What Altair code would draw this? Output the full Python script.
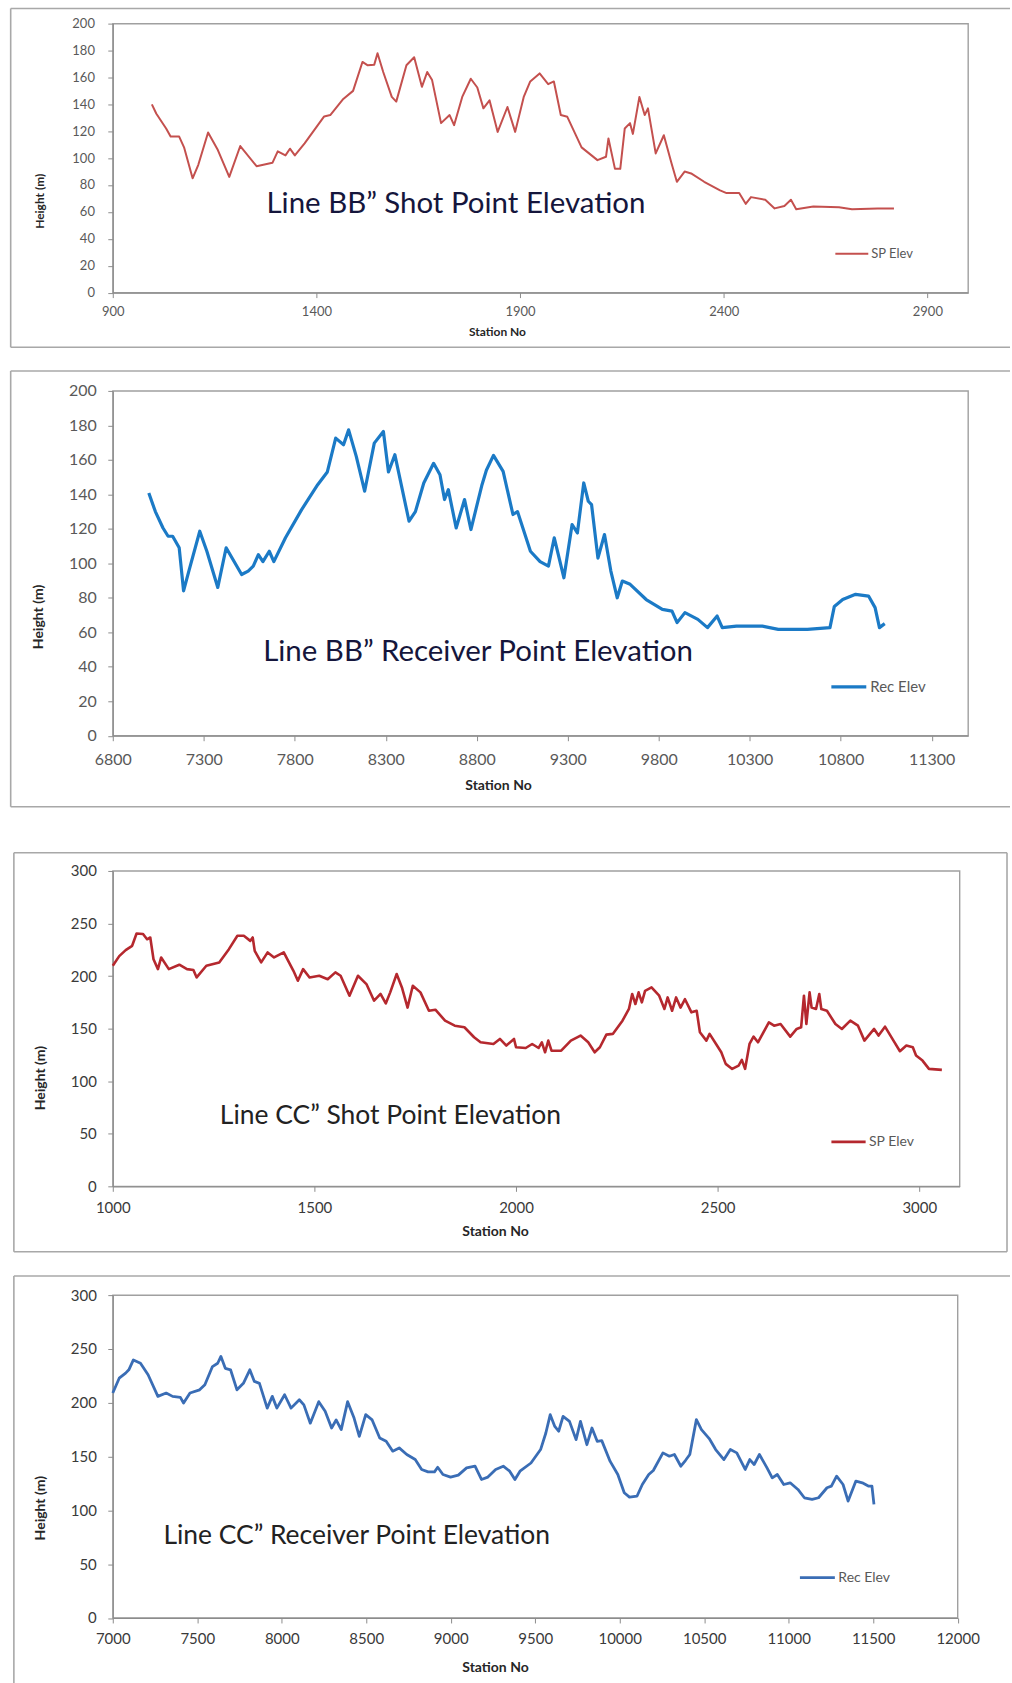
import altair as alt
import pandas as pd

FONT = "Lato"
AXIS_GREY = "#8c8c8c"
FRAME_GREY = "#a8a8a8"

# ---------------- Line BB" : shot point elevation ----------------
bb_sp_station = [996, 1007, 1031, 1042, 1063, 1075, 1096, 1110, 1134, 1158, 1186, 1213,
                 1253, 1292, 1305, 1324, 1335, 1347, 1371, 1419, 1434, 1466, 1490, 1513,
                 1526, 1542, 1550, 1564, 1585, 1596, 1621, 1640, 1659, 1672, 1684, 1706,
                 1727, 1738, 1758, 1779, 1795, 1810, 1825, 1845, 1869, 1888, 1909, 1925,
                 1948, 1969, 1983, 2000, 2016, 2051, 2090, 2111, 2117, 2133, 2146, 2157,
                 2170, 2177, 2193, 2206, 2214, 2233, 2253, 2272, 2285, 2304, 2320, 2352,
                 2391, 2407, 2438, 2454, 2467, 2502, 2525, 2549, 2565, 2578, 2620, 2683,
                 2715, 2778, 2818]
bb_sp_height = [140, 133, 122, 116, 116, 108, 85, 95, 119, 106, 86, 109,
                94, 96.5, 105, 102, 107, 102, 111, 131, 132, 144, 150, 171.5,
                169, 169.5, 178, 164, 145.5, 142, 169, 175, 153, 164, 158, 126,
                132, 124.5, 145.5, 159, 152.5, 137, 143, 119.5, 138, 119.5, 145.5, 157,
                163, 155, 157, 132, 130.7, 108, 98.5, 101, 114.6, 92, 92, 122,
                126, 118, 145.5, 132, 137, 103.5, 117, 96, 82.4, 90, 88.6, 82.4,
                76, 74, 74, 66, 71, 69, 62.6, 64.4, 69, 62, 64, 63.4,
                62, 62.6, 62.6]

# ---------------- Line BB" : receiver point elevation ----------------
bb_rec_station = [6998, 7034, 7076, 7104, 7129, 7165, 7189, 7218, 7278, 7317, 7377, 7423,
                  7508, 7544, 7572, 7600, 7625, 7660, 7685, 7749, 7837, 7926, 7979, 8025,
                  8068, 8096, 8138, 8184, 8237, 8287, 8315, 8350, 8428, 8463, 8509, 8563,
                  8598, 8623, 8644, 8687, 8733, 8768, 8829, 8853, 8892, 8945, 8999, 9024,
                  9095, 9148, 9194, 9226, 9279, 9324, 9353, 9388, 9413, 9431, 9466, 9502,
                  9537, 9572, 9600, 9643, 9731, 9820, 9873, 9901, 9944, 10015, 10068, 10121,
                  10149, 10227, 10369, 10457, 10617, 10741, 10765, 10811, 10882, 10953, 10989, 11013,
                  11042]
bb_rec_height = [140.8, 130, 120.5, 115.7, 115.7, 109, 84, 95.5, 118.6, 107, 86, 109,
                 93.5, 95.5, 98.4, 105, 101, 107, 101, 114.8, 131, 145.6, 153, 172.6,
                 168.8, 177.4, 162, 141.8, 169.7, 176.5, 153, 163, 124.4, 130, 146.6, 158,
                 151.4, 137, 142.7, 120.5, 137, 119.6, 145.6, 154, 162.6, 153.3, 128.3, 130,
                 107, 101, 98.4, 114.8, 91.6, 122.5, 117.6, 146.6, 136, 134, 103, 116.7,
                 95.5, 80, 89.7, 87.8, 79, 73.3, 72.3, 65.6, 71.4, 67.5, 62.7, 69.4,
                 62.7, 63.6, 63.6, 61.7, 61.7, 62.7, 75, 79, 82, 81, 74.3, 62.7,
                 65]

# ---------------- Line CC" : shot point elevation ----------------
cc_sp_station = [1000, 1016, 1032, 1048, 1059, 1075, 1085, 1093, 1101, 1112, 1120, 1139,
                 1165, 1184, 1200, 1208, 1232, 1264, 1288, 1309, 1325, 1341, 1347, 1352,
                 1368, 1384, 1400, 1424, 1448, 1459, 1472, 1488, 1512, 1533, 1552, 1565,
                 1587, 1608, 1629, 1648, 1664, 1677, 1688, 1704, 1717, 1731, 1744, 1763,
                 1784, 1800, 1824, 1848, 1872, 1896, 1912, 1944, 1960, 1976, 1995, 2000,
                 2024, 2040, 2056, 2064, 2072, 2080, 2088, 2112, 2136, 2160, 2179, 2195,
                 2208, 2224, 2240, 2264, 2280, 2288, 2296, 2304, 2312, 2320, 2336, 2355,
                 2368, 2376, 2387, 2397, 2408, 2419, 2435, 2448, 2456, 2472, 2480, 2496,
                 2509, 2520, 2536, 2552, 2560, 2568, 2579, 2589, 2600, 2627, 2640, 2656,
                 2680, 2696, 2707, 2714, 2720, 2728, 2733, 2744, 2752, 2757, 2771, 2792,
                 2808, 2829, 2848, 2864, 2888, 2899, 2915, 2936, 2952, 2968, 2984, 2992,
                 3008, 3024, 3056]
cc_sp_height = [209.8, 219, 224.7, 228.8, 240.5, 240, 235, 236.7, 216, 206.6, 217.7, 206.6,
                210.8, 206.6, 205.7, 198.7, 209.8, 213, 225.6, 238.3, 238.3, 233.5, 236.7, 224,
                213, 222.5, 217.7, 222.5, 205, 195.6, 206.6, 198.7, 200.3, 197, 203.5, 200.3,
                181.3, 200.3, 192.4, 176.6, 183, 174, 184.5, 202, 189.2, 170, 190.8, 184.5,
                167, 168, 157.6, 152.8, 151.3, 141.8, 137, 135.4, 140.2, 133.9, 140.2, 132.3,
                131.6, 135.4, 131.6, 137, 127.5, 138.6, 129, 129, 138.6, 143.4, 137, 127.5,
                132.3, 144.3, 145, 157.6, 168.7, 183, 173.4, 184.5, 175, 186, 189.2, 181.3,
                168.7, 179.7, 167, 179.7, 170, 178, 165.5, 167, 146.5, 138.6, 145, 135.4,
                127.5, 116.5, 111.7, 114.9, 120.3, 111.7, 135.4, 142.4, 137, 156, 152.8, 154.4,
                142.4, 149.7, 151.3, 181.3, 154.4, 184.5, 170, 168.7, 183, 168.7, 167, 154.4,
                149.7, 157.6, 152.8, 138.6, 149.7, 143.4, 151.9, 138.6, 128.5, 133.9, 132.3, 124.4,
                119.6, 111.7, 110.8]

# ---------------- Line CC" : receiver point elevation ----------------
cc_rec_station = [7000, 7038, 7076, 7095, 7122, 7164, 7209, 7267, 7316, 7354, 7400, 7419,
                  7457, 7514, 7545, 7590, 7621, 7640, 7666, 7697, 7735, 7773, 7811, 7838,
                  7868, 7914, 7944, 7971, 8017, 8055, 8104, 8131, 8169, 8219, 8257, 8295,
                  8322, 8352, 8390, 8428, 8459, 8497, 8535, 8580, 8618, 8657, 8695, 8740,
                  8790, 8828, 8866, 8904, 8923, 8954, 8999, 9045, 9094, 9144, 9182, 9220,
                  9266, 9311, 9349, 9380, 9410, 9475, 9532, 9563, 9589, 9616, 9639, 9665,
                  9703, 9742, 9768, 9806, 9836, 9867, 9894, 9943, 9989, 10027, 10058, 10103,
                  10134, 10172, 10199, 10256, 10294, 10324, 10362, 10389, 10415, 10454, 10484, 10530,
                  10568, 10617, 10655, 10693, 10743, 10770, 10796, 10827, 10872, 10903, 10933, 10971,
                  11009, 11055, 11093, 11139, 11177, 11227, 11253, 11284, 11322, 11352, 11398, 11436,
                  11474, 11493, 11505]
cc_rec_height = [209, 222.8, 227.5, 230.6, 239.8, 236.7, 226, 205.9, 209, 205.9, 205, 199.7,
                 209, 212, 216.7, 233.6, 236.7, 243, 232, 230.6, 212, 218, 230.6, 219.8,
                 218, 195, 205.9, 195, 207.4, 195, 202.8, 198, 181, 201, 192, 176.5,
                 184, 175, 201, 185.8, 168.8, 188.9, 184, 167.3, 164.2, 155, 158, 151.9,
                 147.2, 138, 135.8, 135.8, 140, 133.3, 130.9, 132.7, 139.5, 141, 128.7, 130.9,
                 138, 141, 136.4, 128.7, 136.4, 144, 156.5, 171.9, 188.9, 178, 173.5, 187.3,
                 182.7, 165.7, 182.7, 161, 176.5, 164.2, 164.8, 145.7, 133.3, 116.4, 112.3, 113.3,
                 124, 133.3, 137, 153.4, 150.3, 151.9, 141, 146.3, 151.9, 184.3, 175, 166.7,
                 156.5, 147.2, 156.5, 153.4, 138, 147.2, 142.6, 151.9, 139.5, 130.2, 133.3, 124,
                 125.6, 119.4, 111.7, 110.2, 111.7, 121, 122.5, 131.8, 124, 108.6, 127.2, 125.6,
                 122.5, 122.5, 105.6]

# Axis tick values and panel captions
bb_sp_xticks = [900, 1400, 1900, 2400, 2900]
bb_rec_xticks = [6800, 7300, 7800, 8300, 8800, 9300, 9800, 10300, 10800, 11300]
cc_sp_xticks = [1000, 1500, 2000, 2500, 3000]
cc_rec_xticks = [7000, 7500, 8000, 8500, 9000, 9500, 10000, 10500, 11000, 11500, 12000]
bb_yticks = [0, 20, 40, 60, 80, 100, 120, 140, 160, 180, 200]
cc_yticks = [0, 50, 100, 150, 200, 250, 300]

captions = ["Line BB\u201d Shot Point Elevation",
            "Line BB\u201d Receiver Point Elevation",
            "Line CC\u201d Shot Point Elevation",
            "Line CC\u201d Receiver Point Elevation"]
series_names = ["SP Elev", "Rec Elev", "SP Elev", "Rec Elev"]

ONE = pd.DataFrame({"k": [0]})


def rule(x, x2, y, y2, color=FRAME_GREY, width=1.6, opacity=1.0):
    return alt.Chart(ONE).mark_rule(color=color, strokeWidth=width,
                                    strokeOpacity=opacity).encode(
        x=alt.value(x), x2=alt.value(x2), y=alt.value(y), y2=alt.value(y2))


def panel(station, height, name, caption, c):
    df = pd.DataFrame({"station": station, "height": height, "series": name})
    x_axis = alt.Axis(
        values=c["xticks"], format="d", title="Station No", grid=False,
        labelFont=FONT, labelFontSize=c["lab"], labelColor=c["labc"],
        labelPadding=c["xpad"], labelFlush=False, labelOverlap=False,
        titleFont=FONT, titleFontSize=c["tit"], titleFontWeight="bold",
        titleColor="#262626", titleX=c["xtx"], titleY=c["xty"],
        titleAlign="center", titleBaseline="middle",
        domainColor=AXIS_GREY, tickColor=AXIS_GREY, tickSize=5, domainWidth=1.2)
    y_axis = alt.Axis(
        values=c["yticks"], title="Height (m)", grid=False,
        labelFont=FONT, labelFontSize=c["lab"], labelColor=c["labc"],
        labelPadding=c["ypad"], labelFlush=False, labelOverlap=False,
        titleFont=FONT, titleFontSize=c["tit"], titleFontWeight="bold",
        titleColor="#262626", titleAngle=270, titleX=c["ytx"], titleY=c["yty"],
        titleAlign="center", titleBaseline="middle",
        domainColor=AXIS_GREY, tickColor=AXIS_GREY, tickSize=5, domainWidth=1.2)

    line = alt.Chart(df).mark_line(strokeWidth=c["lw"], strokeJoin="round").encode(
        x=alt.X("station:Q", scale=alt.Scale(domain=c["xdom"], nice=False, zero=False),
                axis=x_axis),
        y=alt.Y("height:Q", scale=alt.Scale(domain=[0, c["ymax"]], nice=False),
                axis=y_axis),
        color=alt.Color("series:N",
                        scale=alt.Scale(domain=[name], range=[c["color"]]),
                        legend=alt.Legend(
                            title=None, orient="none", legendX=c["legx"], legendY=c["legy"],
                            symbolType="stroke", symbolSize=c["symsize"],
                            symbolStrokeWidth=c["lw"], symbolStrokeColor=c["color"],
                            labelFont=FONT, labelFontSize=c["legfs"],
                            labelColor="#595959", labelOffset=2, padding=0)),
    )

    text = alt.Chart(pd.DataFrame({"caption": [caption]})).mark_text(
        align="left", baseline="alphabetic", font=FONT, fontSize=c["capfs"],
        color=c["capc"]).encode(
        x=alt.value(c["capx"]), y=alt.value(c["capy"]), text="caption:N")

    fx, ft, fb, fr = c["frame"]
    # invisible diagonal rule that fixes the vertical slot each panel occupies
    parts = [rule(-112, 900, c["slot"][0], c["slot"][1], width=0, opacity=0.0),
             rule(fx, fx, ft, fb),
             rule(fx, fr, ft, ft)]
    if c.get("bottom", True):
        parts.append(rule(fx, fr, fb, fb))
    if c.get("right", False):
        parts.append(rule(fr, fr, ft, fb))
    parts += [line, text]
    return alt.layer(*parts).properties(width=c["w"], height=c["h"])


cfg_bb_sp = dict(xticks=bb_sp_xticks, yticks=bb_yticks, xdom=[900, 3000], ymax=200,
                 w=857, h=269.5, color="#C4504E", lw=2.0,
                 lab=13, labc="#595959", tit=12, xpad=8, ypad=13.4,
                 xtx=385, xty=38.5, ytx=-73.3, yty=177.5,
                 legx=723, legy=213, symsize=1089, legfs=13,
                 capx=154, capy=189.5, capfs=29.5, capc="#15163c",
                 frame=(-102.3, -15.2, 324.2, 899), slot=(-20.4, 337.5))
cfg_bb_rec = dict(xticks=bb_rec_xticks, yticks=bb_yticks, xdom=[6800, 11500], ymax=200,
                  w=857, h=345.5, color="#1B7AC6", lw=3.2,
                  lab=16, labc="#595959", tit=14, xpad=11, ypad=11.5,
                  xtx=386, xty=50.2, ytx=-74.6, yty=226,
                  legx=718, legy=277, symsize=1225, legfs=15,
                  capx=150.7, capy=271, capfs=29.5, capc="#15163c",
                  frame=(-102.3, -20, 416.7, 899), slot=(-28.3, 439))
cfg_cc_sp = dict(xticks=cc_sp_xticks, yticks=cc_yticks, xdom=[1000, 3100], ymax=300,
                 w=848.5, h=316, color="#B5282E", lw=2.6,
                 lab=15, labc="#3a3a3a", tit=14, xpad=9, ypad=11.5,
                 xtx=383, xty=45.5, ytx=-72, yty=207,
                 legx=718.7, legy=253, symsize=1176, legfs=14,
                 capx=107.3, capy=253.5, capfs=26.5, capc="#222222",
                 frame=(-99.1, -18.2, 381.5, 896), slot=(-39.9, 393.5), right=True)
cfg_cc_rec = dict(xticks=cc_rec_xticks, yticks=cc_yticks, xdom=[7000, 12000], ymax=300,
                  w=846.5, h=323.5, color="#3A6DB5", lw=2.8,
                  lab=15, labc="#3a3a3a", tit=14, xpad=9, ypad=11.5,
                  xtx=383, xty=50, ytx=-72, yty=213,
                  legx=687, legy=264, symsize=1225, legfs=14,
                  capx=50.7, capy=249.5, capfs=26.5, capc="#222222",
                  frame=(-99.1, -19.2, 390, 899), slot=(-28.8, 392.5), bottom=False)

p1 = panel(bb_sp_station, bb_sp_height, series_names[0], captions[0], cfg_bb_sp)
p2 = panel(bb_rec_station, bb_rec_height, series_names[1], captions[1], cfg_bb_rec)
p3 = panel(cc_sp_station, cc_sp_height, series_names[2], captions[2], cfg_cc_sp)
p4 = panel(cc_rec_station, cc_rec_height, series_names[3], captions[3], cfg_cc_rec)

chart = alt.vconcat(p1, p2, p3, p4, spacing=0).resolve_scale(
    color="independent").resolve_legend(color="independent").properties(
    padding=0, background="white").configure_view(stroke="#a0a0a0", strokeWidth=1.4)

chart.save("out.html", embed_options={"renderer": "svg", "actions": False})
